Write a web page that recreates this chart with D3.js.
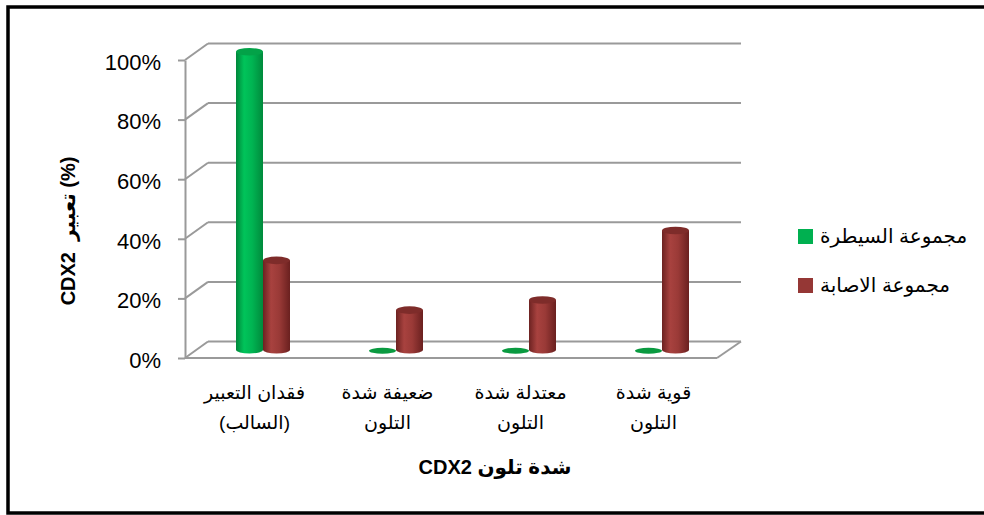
<!DOCTYPE html>
<html>
<head>
<meta charset="utf-8">
<script src="https://cdn.jsdelivr.net/npm/d3@7"></script>
<style>
  html, body { margin: 0; padding: 0; background: #fff; }
  svg { display: block; }
  text { font-family: "Liberation Sans", Arial, "DejaVu Sans", sans-serif; fill: #000; }
</style>
</head>
<body>
<svg id="chart" width="984" height="515"></svg>
<script>
// ---- data ----
const categories = [
  ["فقدان التعبير", "(السالب)"],
  ["ضعيفة شدة", "التلون"],
  ["معتدلة شدة", "التلون"],
  ["قوية شدة", "التلون"]
];
const seriesNames = ["مجموعة السيطرة", "مجموعة الاصابة"];
const controlValues = [100, 0, 0, 0];
const infectedValues = [30, 13.3, 16.7, 40];
const yTicks = [0, 20, 40, 60, 80, 100];
const yAxisTitle = "CDX2  تعبير (%)";
const xAxisTitle = "شدة تلون CDX2";

// ---- layout ----
const svg = d3.select("#chart");
const front = { left: 185, right: 717, top: 60, bottom: 358 };
const depth = { dx: 23, dy: -16.5 };
const colors = ["#00B050", "#953735"];

const x = d3.scaleBand().domain(d3.range(categories.length)).range([front.left, front.right]);
const y = d3.scaleLinear().domain([0, 100]).range([front.bottom, front.top]);

// frame
svg.append("rect").attr("x", 8).attr("y", 7).attr("width", 990).attr("height", 506)
  .attr("fill", "none").attr("stroke", "#000").attr("stroke-width", 3.5);

// gradients
const defs = svg.append("defs");
function grad(id, stops) {
  const g = defs.append("linearGradient").attr("id", id).attr("x1", "0").attr("x2", "1").attr("y1", "0").attr("y2", "0");
  stops.forEach(s => g.append("stop").attr("offset", s[0]).attr("stop-color", s[1]));
}
grad("g0", [[0, "#00863a"], [0.3, "#00c45a"], [0.6, "#00b452"], [1, "#008a3c"]]);
grad("g1", [[0, "#6c2221"], [0.3, "#a8423f"], [0.6, "#9a3a37"], [1, "#6a201f"]]);

// grid: back wall + left wall diagonals
const grid = svg.append("g").attr("stroke", "#9a9a9a").attr("stroke-width", 2).attr("fill", "none");
yTicks.forEach(v => {
  grid.append("line")
    .attr("x1", front.left + depth.dx).attr("x2", front.right + depth.dx + 1)
    .attr("y1", y(v) + depth.dy).attr("y2", y(v) + depth.dy);
  grid.append("line")
    .attr("x1", front.left).attr("x2", front.left + depth.dx)
    .attr("y1", y(v)).attr("y2", y(v) + depth.dy);
});
// floor
grid.append("line").attr("x1", front.left).attr("x2", front.right)
  .attr("y1", y(0)).attr("y2", y(0));
grid.append("line").attr("x1", front.right).attr("x2", front.right + depth.dx + 1)
  .attr("y1", y(0)).attr("y2", y(0) + depth.dy);

// y axis
const yAxis = d3.axisLeft(y).tickValues(yTicks).tickFormat(d => d + "%").tickSize(7).tickSizeOuter(0).tickPadding(17);
const gy = svg.append("g").attr("transform", `translate(${front.left},0)`).call(yAxis);
gy.selectAll("path, line").attr("stroke", "#9a9a9a").attr("stroke-width", 2);
gy.selectAll("text").style("font-size", "22px").style("font-family", "\"Liberation Sans\", Arial, sans-serif").attr("fill", "#000").attr("dy", "0.42em");

// x axis labels
const xAxis = d3.axisBottom(x).tickSize(0).tickFormat(() => "");
const gx = svg.append("g").attr("transform", `translate(3,${front.bottom})`).call(xAxis);
gx.select(".domain").remove();
gx.selectAll(".tick").each(function (d) {
  const t = d3.select(this).select("text").text(null).style("font-size", "19px").attr("y", 0).attr("dy", null);
  categories[d].forEach((line, i) => {
    t.append("tspan").attr("x", 0).attr("y", 41 + i * 30).text(line);
  });
});

// bars (cylinders) at mid-depth
const series = [controlValues, infectedValues];
const barW = 27, ry = 3.8;
const bars = svg.append("g");
series.forEach((vals, s) => {
  vals.forEach((v, i) => {
    const cx = x(i) + x.bandwidth() / 2 + depth.dx / 2 + (s === 0 ? -barW / 2 : barW / 2);
    const x0 = cx - barW / 2, x1 = cx + barW / 2;
    const yb = y(0) + depth.dy / 2;
    const yt = y(v) + depth.dy / 2;
    if (v > 0) {
      bars.append("path")
        .attr("d", `M${x0},${yt} L${x0},${yb} A${barW / 2},${ry} 0 0 0 ${x1},${yb} L${x1},${yt} Z`)
        .attr("fill", `url(#g${s})`);
      bars.append("ellipse").attr("cx", cx).attr("cy", yt).attr("rx", barW / 2).attr("ry", ry)
        .attr("fill", s === 0 ? "#03a248" : "#7e2c2a");
    } else {
      bars.append("ellipse").attr("cx", cx).attr("cy", yb + 1).attr("rx", barW / 2).attr("ry", 3)
        .attr("fill", s === 0 ? "#0a9a40" : "#7e2c2a");
    }
  });
});

// legend
const legend = svg.append("g");
seriesNames.forEach((name, i) => {
  const ly = 236 + i * 49;
  legend.append("rect").attr("x", 798).attr("y", ly - 7).attr("width", 15).attr("height", 15).attr("fill", colors[i]);
  legend.append("text").attr("x", 820).attr("y", ly).attr("dy", "0.35em").style("font-size", "20px").text(name);
});

// axis titles
svg.append("text").attr("transform", "translate(68,231) rotate(-90)")
  .attr("text-anchor", "middle").attr("dy", "0.35em")
  .style("font-size", "20px").style("font-weight", "bold").style("white-space", "pre")
  .text(yAxisTitle);
svg.append("text").attr("x", 495).attr("y", 467).attr("text-anchor", "middle").attr("dy", "0.35em")
  .attr("direction", "rtl").style("direction", "rtl").style("unicode-bidi", "embed")
  .style("font-size", "20px").style("font-weight", "bold")
  .text(xAxisTitle);
</script>
</body>
</html>
